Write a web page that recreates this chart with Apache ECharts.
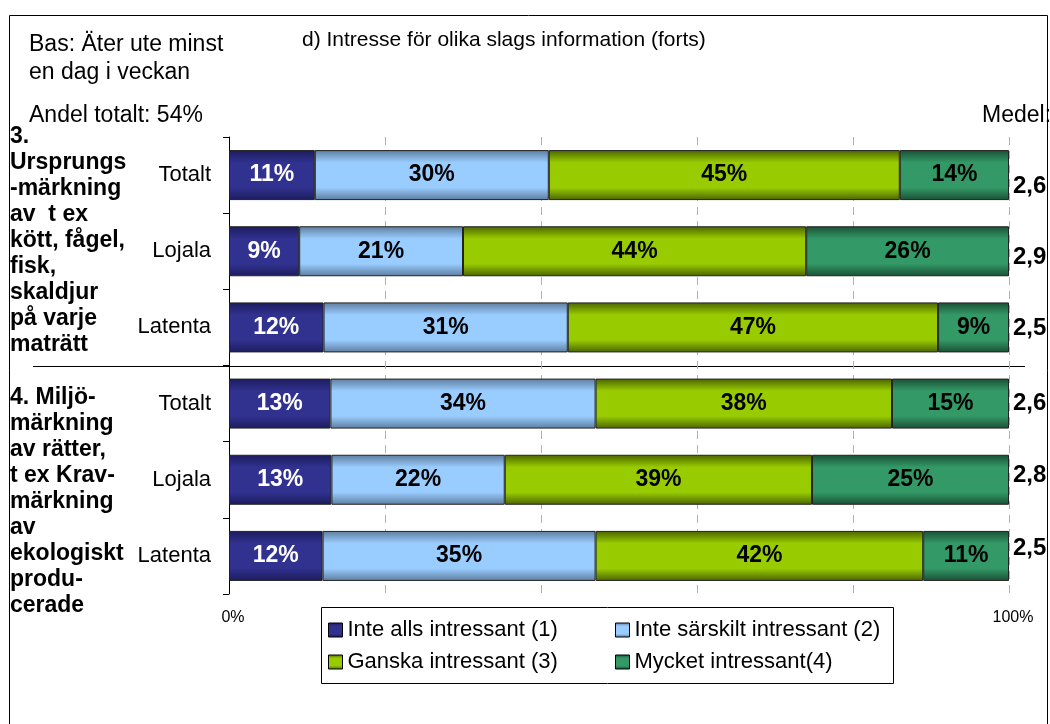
<!DOCTYPE html>
<html><head><meta charset="utf-8">
<script src="https://cdn.jsdelivr.net/npm/echarts@6/dist/echarts.min.js"></script>
<style>html,body{margin:0;padding:0;background:#fff}#c{width:1050px;height:724px}</style>
</head><body><div id="c"></div><script>
const categories = ['Totalt','Lojala','Latenta','Totalt','Lojala','Latenta'];
const seriesNames = ['Inte alls intressant (1)','Inte särskilt intressant (2)','Ganska intressant (3)','Mycket intressant(4)'];
const inteAlls = [11,9,12,13,13,12];
const inteSarskilt = [30,21,31,34,22,35];
const ganska = [45,44,47,38,39,42];
const mycket = [14,26,9,15,25,11];
const medel = ['2,6','2,9','2,5','2,6','2,8','2,5'];
const groupLabels = ['3.\nUrsprungs\n-märkning\nav  t ex\nkött, fågel,\nfisk,\nskaldjur\npå varje\nmaträtt',
                     '4. Miljö-\nmärkning\nav rätter,\nt ex Krav-\nmärkning\nav\nekologiskt\nprodu-\ncerade'];
const xTickLabels = {0:'0%',100:'100%'};

const FONT = '"Liberation Sans", Arial, sans-serif';
const raw = [inteAlls, inteSarskilt, ganska, mycket];
const totals = categories.map((_, i) => raw.reduce((s, a) => s + a[i], 0));
const palette = [
  ['#1c1c5e', '#31318f'],
  ['#5d7d9e', '#99ccff'],
  ['#4a6400', '#99cc00'],
  ['#1a4f35', '#339966']
];
const grad = (c) => new echarts.graphic.LinearGradient(0, 0, 0, 1, [
  {offset: 0, color: c[0]}, {offset: 0.25, color: c[1]},
  {offset: 0.75, color: c[1]}, {offset: 1, color: c[0]}
]);
const medelShift = [11, 6, 1, 0, -4, -8];
const rich = {};
medelShift.forEach((s, i) => {
  rich['s' + i] = {fontSize: 24, fontWeight: 'bold', fontFamily: FONT, color: '#000',
    padding: s >= 0 ? [2 * s, 0, 0, 0] : [0, 0, -2 * s, 0]};
});

const chart = echarts.init(document.getElementById('c'), null, {renderer: 'canvas'});
const legendPos = [[328, 619], [615, 619], [328, 651], [615, 651]];
chart.setOption({
  animation: false,
  grid: {left: 229, right: 41, top: 137, bottom: 130, containLabel: false},
  xAxis: {
    type: 'value', min: 0, max: 100, interval: 20,
    axisLine: {show: false}, axisTick: {show: false},
    splitLine: {show: true, lineStyle: {color: '#b0b0b0', type: [8, 6], width: 1}},
    axisLabel: {formatter: v => xTickLabels[v] || '', fontSize: 16, color: '#000', fontFamily: FONT,
      margin: 16, padding: [0, 0, 0, 8]}
  },
  yAxis: [{
    type: 'category', data: categories, inverse: true,
    axisLine: {show: true, lineStyle: {color: '#000', width: 1}},
    axisTick: {show: true, length: 6, lineStyle: {color: '#000'}},
    axisLabel: {fontSize: 22, color: '#000', fontFamily: FONT, margin: 18}
  }, {
    type: 'category', data: medel, inverse: true, position: 'right',
    axisLine: {show: false}, axisTick: {show: false},
    axisLabel: {margin: 4, formatter: (v, i) => '{s' + i + '|' + v + '}', rich: rich}
  }],
  legend: seriesNames.map((n, i) => ({
    data: [n], left: legendPos[i][0], top: legendPos[i][1], icon: 'rect', padding: 0,
    itemWidth: 14, itemHeight: 14, itemGap: 0, selectedMode: false,
    itemStyle: {borderColor: '#000', borderWidth: 1},
    textStyle: {fontSize: 22, color: '#000', fontFamily: FONT}
  })),
  series: raw.map((arr, si) => ({
    name: seriesNames[si], type: 'bar', stack: 'total', barWidth: 50,
    data: arr.map((v, i) => v / totals[i] * 100),
    itemStyle: {color: grad(palette[si]), borderColor: '#222', borderWidth: 1},
    label: {
      show: true, position: 'inside',
      formatter: p => arr[p.dataIndex] + '%',
      color: si === 0 ? '#fff' : '#000', fontSize: 23, fontWeight: 'bold', fontFamily: FONT
    }
  })),
  graphic: [
    {type: 'rect', shape: {x: 9.5, y: 15.5, width: 1038, height: 730}, style: {fill: 'none', stroke: '#000', lineWidth: 1}, silent: true},
    {type: 'rect', shape: {x: 321.5, y: 607.5, width: 572, height: 76}, style: {fill: 'none', stroke: '#000', lineWidth: 1}, silent: true},
    {type: 'line', shape: {x1: 33, y1: 366.5, x2: 1025, y2: 366.5}, style: {stroke: '#000', lineWidth: 1}, silent: true},
    {type: 'text', left: 29, top: 31, style: {text: 'Bas: Äter ute minst\nen dag i veckan', font: '23px ' + FONT, lineHeight: 28, fill: '#000'}},
    {type: 'text', left: 29, top: 102, style: {text: 'Andel totalt: 54%', font: '23px ' + FONT, lineHeight: 28, fill: '#000'}},
    {type: 'text', left: 302, top: 28, style: {text: 'd) Intresse för olika slags information (forts)', font: '21px ' + FONT, lineHeight: 24, fill: '#000'}},
    {type: 'text', left: 982, top: 102, style: {text: 'Medel:', font: '23px ' + FONT, lineHeight: 28, fill: '#000'}},
    {type: 'text', left: 10, top: 124, style: {text: groupLabels[0], font: 'bold 23px ' + FONT, lineHeight: 26, fill: '#000'}},
    {type: 'text', left: 10, top: 385, style: {text: groupLabels[1], font: 'bold 23px ' + FONT, lineHeight: 26, fill: '#000'}}
  ]
});
</script></body></html>
